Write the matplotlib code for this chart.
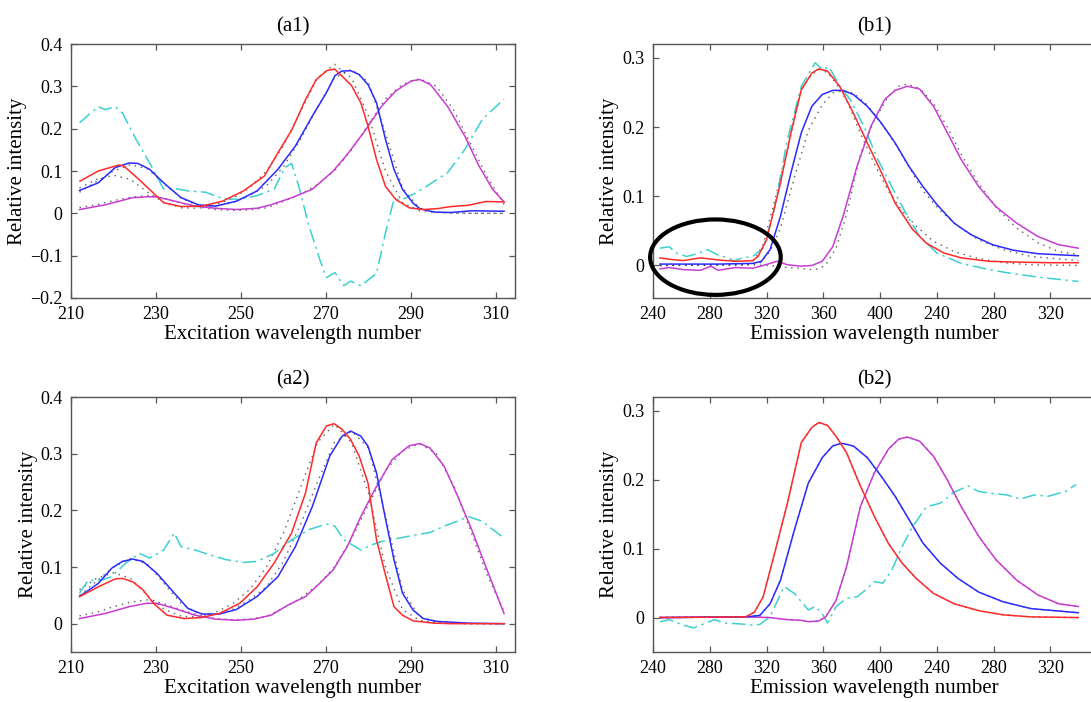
import numpy as np
import matplotlib.pyplot as plt
from matplotlib.patches import Ellipse

plt.rcParams['font.family'] = ['Liberation Serif', 'DejaVu Serif']
plt.rcParams['axes.unicode_minus'] = True

# ---- excitation panels (a1, a2) ----
a1_red_x = [212.1, 216.4, 221.2, 222.4, 226, 231.8, 235.9, 240.8, 245.7, 250.6, 255.5, 258.7, 262, 265.2, 267.7,
            270.2, 272, 273.8, 276, 278.2, 279.9, 281.9, 284, 286.4, 289.6, 292.9, 296.1, 299.4, 303.5, 307.6, 311.9]
a1_red_y = [0.076, 0.1, 0.114, 0.112, 0.08, 0.025, 0.016, 0.017, 0.029, 0.053, 0.088, 0.143, 0.198, 0.269, 0.316,
            0.337, 0.341, 0.324, 0.302, 0.261, 0.206, 0.127, 0.064, 0.033, 0.013, 0.009, 0.011, 0.016, 0.019, 0.028, 0.027]
a1_blue_x = [212, 216.4, 220.4, 223.7, 225.7, 228.5, 231.8, 235.9, 240, 244, 249, 253.8, 258.7, 262.8, 266.8, 270.1,
             272.1, 273.7, 275.8, 277.8, 279.9, 281.9, 284, 286, 288, 290.5, 292.1, 295.4, 299.4, 304.3, 311.9]
a1_blue_y = [0.054, 0.072, 0.108, 0.119, 0.118, 0.104, 0.072, 0.037, 0.02, 0.017, 0.029, 0.053, 0.104, 0.159, 0.23,
             0.285, 0.325, 0.336, 0.337, 0.328, 0.304, 0.261, 0.175, 0.104, 0.057, 0.024, 0.011, 0.003, 0.002, 0.006, 0.005]
a1_mag_x = [212, 218, 224.5, 227.8, 230.2, 234.3, 239.2, 244, 249, 253.8, 257, 262, 266.8, 271.7, 275, 279.1, 283.1,
            286.4, 290.1, 292.1, 294.6, 298.6, 302.7, 306, 309.2, 311.9]
a1_mag_y = [0.009, 0.02, 0.037, 0.039, 0.039, 0.029, 0.017, 0.012, 0.009, 0.012, 0.02, 0.037, 0.057, 0.1, 0.139,
            0.194, 0.253, 0.289, 0.313, 0.316, 0.304, 0.253, 0.182, 0.112, 0.057, 0.027]
a1_cyan_x = [212, 216.4, 218, 220.4, 222.1, 225.3, 228.5, 231.8, 234.3, 237.5, 241.6, 245.7, 249.7, 253.8, 257.8,
             260.3, 261.9, 263.6, 266, 268.5, 270.1, 272.1, 274.2, 275.8, 278.2, 281.9, 284, 286, 288.5, 291.3,
             294.6, 298.6, 302.7, 306.8, 311.9]
a1_cyan_y = [0.214, 0.252, 0.245, 0.252, 0.237, 0.175, 0.119, 0.057, 0.059, 0.053, 0.05, 0.035, 0.033, 0.042, 0.057,
             0.108, 0.118, 0.064, -0.03, -0.108, -0.152, -0.14, -0.171, -0.16, -0.171, -0.142, -0.046, 0.033, 0.035,
             0.049, 0.07, 0.096, 0.151, 0.222, 0.27]

a2_red_x = [212.1, 216.4, 220.4, 222.1, 224.5, 226.9, 229.4, 232.6, 236.7, 240.8, 244.9, 249.7, 253.8, 257.8, 261.9,
            265.2, 267.7, 270.1, 271.9, 273.8, 275.8, 277.8, 279.9, 281.9, 283.9, 286, 288, 290.5, 295.3, 299.4, 311.9]
a2_red_y = [0.048, 0.065, 0.079, 0.08, 0.074, 0.06, 0.036, 0.015, 0.009, 0.011, 0.018, 0.036, 0.065, 0.107, 0.16,
            0.231, 0.319, 0.349, 0.353, 0.343, 0.325, 0.296, 0.248, 0.148, 0.089, 0.03, 0.015, 0.005, 0.001, 0.0, 0.0]
a2_blue_x = [212, 216.4, 219.6, 222.1, 224.5, 226.9, 230.2, 234.3, 237.5, 240.8, 244.9, 248.9, 253.8, 258.7, 262.8,
             266.8, 270.9, 273.8, 275.8, 278.2, 279.9, 281.9, 283.9, 286, 288, 290.5, 292.9, 296.2, 303.5, 312]
a2_blue_y = [0.048, 0.071, 0.098, 0.11, 0.114, 0.11, 0.089, 0.054, 0.027, 0.017, 0.017, 0.025, 0.048, 0.083, 0.136,
             0.207, 0.296, 0.331, 0.34, 0.331, 0.313, 0.266, 0.189, 0.113, 0.054, 0.024, 0.009, 0.004, 0.001, 0.0]
a2_mag_x = [212, 218, 223.7, 227.8, 230.2, 234.3, 239.2, 244, 248.9, 253, 257.1, 261.1, 265.2, 268.5, 271.7, 275,
            278.2, 281.5, 285.6, 289.6, 292.1, 294.5, 297.8, 301, 304.3, 307.6, 311.9]
a2_mag_y = [0.009, 0.018, 0.03, 0.036, 0.036, 0.027, 0.015, 0.008, 0.006, 0.008, 0.015, 0.033, 0.048, 0.071, 0.095,
            0.136, 0.189, 0.237, 0.29, 0.314, 0.318, 0.31, 0.278, 0.225, 0.166, 0.101, 0.018]
a2_cyan_x = [212, 214, 217.2, 219.6, 220.4, 222.9, 226.1, 228.5, 231.8, 234.3, 235.9, 239.2, 242.4, 246.5, 250.6,
             253.8, 257.8, 261.9, 266, 270.1, 272.1, 274.2, 278.2, 280.7, 283.1, 287.2, 291.3, 294.5, 297.8, 301,
             303.5, 306.7, 311.9]
a2_cyan_y = [0.054, 0.076, 0.077, 0.083, 0.089, 0.107, 0.124, 0.116, 0.13, 0.16, 0.136, 0.13, 0.122, 0.113, 0.108,
             0.11, 0.124, 0.148, 0.166, 0.176, 0.172, 0.148, 0.13, 0.139, 0.145, 0.151, 0.157, 0.161, 0.172, 0.181,
             0.189, 0.181, 0.151]

# reference excitation spectra (dotted)
ex_ref_x = [212, 216, 220, 224, 228, 232, 236, 240, 244, 248, 252, 256, 260, 264, 268, 272, 276, 280, 284, 288,
            292, 296, 300, 304, 308, 312]
ex_ref_red = [0.06, 0.08, 0.09, 0.08, 0.05, 0.025, 0.013, 0.012, 0.02, 0.035, 0.06, 0.1, 0.16, 0.24, 0.32, 0.352,
              0.32, 0.23, 0.1, 0.025, 0.006, 0.002, 0.001, 0.0, 0.0, 0.0]
ex_ref_blue = [0.05, 0.075, 0.1, 0.115, 0.105, 0.07, 0.035, 0.018, 0.017, 0.025, 0.042, 0.065, 0.11, 0.175, 0.25,
               0.32, 0.34, 0.31, 0.19, 0.06, 0.012, 0.003, 0.001, 0.0, 0.0, 0.0]
ex_ref_mag = [0.014, 0.02, 0.03, 0.038, 0.042, 0.035, 0.024, 0.015, 0.009, 0.007, 0.008, 0.013, 0.028, 0.045, 0.068,
              0.1, 0.15, 0.21, 0.27, 0.305, 0.318, 0.3, 0.245, 0.165, 0.085, 0.02]

# ---- emission panels (b1, b2) ----
b1_red_x = [244.9, 251.5, 261.3, 273.5, 285.8, 298, 310.3, 314, 320, 329.8, 337.2, 344.5, 351.9, 356.8, 362.9,
            371.5, 381.2, 391, 401, 410.6, 422.9, 432.7, 444.9, 457.1, 476.7, 493.9, 518.3, 539.6]
b1_red_y = [0.011, 0.009, 0.007, 0.011, 0.008, 0.006, 0.007, 0.013, 0.037, 0.119, 0.192, 0.254, 0.278, 0.284, 0.281,
            0.259, 0.22, 0.177, 0.134, 0.09, 0.052, 0.032, 0.018, 0.011, 0.006, 0.005, 0.004, 0.004]
b1_blue_x = [244.9, 261.3, 285.8, 310.3, 316.4, 322.5, 329.8, 337.2, 344.5, 351.9, 359.2, 366.6, 373.9, 381.2, 391,
             400.8, 410.6, 420.4, 430.2, 440, 452.2, 464.5, 479.2, 493.9, 511, 539.6]
b1_blue_y = [0.002, 0.002, 0.002, 0.003, 0.006, 0.023, 0.071, 0.134, 0.192, 0.23, 0.247, 0.253, 0.253, 0.247, 0.23,
             0.206, 0.177, 0.143, 0.114, 0.088, 0.061, 0.044, 0.03, 0.022, 0.017, 0.014]
b1_mag_x = [244.9, 251.5, 261.3, 273.5, 280.9, 285.8, 298, 310.3, 317.6, 327.4, 334.7, 344.5, 351.9, 359.2, 366.6,
            373.9, 383.7, 393.5, 403.3, 410.6, 419.2, 427.8, 437.6, 447.3, 457.1, 469.4, 481.6, 496.3, 511, 525.7,
            539.6]
b1_mag_y = [-0.005, -0.003, -0.006, -0.007, -0.001, -0.007, -0.003, -0.004, 0.0, 0.006, 0.001, -0.001, 0.0, 0.006,
            0.027, 0.071, 0.143, 0.201, 0.24, 0.253, 0.259, 0.255, 0.23, 0.192, 0.153, 0.114, 0.085, 0.061, 0.042,
            0.03, 0.025]
b1_cyan_x = [244.9, 251.5, 256.4, 263.7, 271.1, 278.4, 285.8, 293.1, 296.8, 302.9, 310.3, 317.6, 325, 334.7, 344.5,
             354.3, 359.2, 364.1, 371.5, 378.8, 388.6, 398.4, 408.2, 418, 427.8, 440, 457.1, 476.7, 493.9, 515.9,
             539.6]
b1_cyan_y = [0.025, 0.027, 0.018, 0.013, 0.017, 0.023, 0.015, 0.011, 0.006, 0.011, 0.013, 0.025, 0.076, 0.182, 0.259,
             0.293, 0.283, 0.287, 0.259, 0.24, 0.201, 0.153, 0.114, 0.076, 0.042, 0.018, 0.003, -0.006, -0.012,
             -0.018, -0.023]

b2_red_x = [244.9, 305.4, 311.5, 317.6, 325, 334.7, 344.5, 351.9, 356.8, 362.9, 369, 376.4, 386.1, 395.9, 405.7,
            415.5, 425.3, 437.6, 452.2, 469.4, 486.5, 506.1, 539.6]
b2_red_y = [0.0, 0.001, 0.008, 0.03, 0.088, 0.166, 0.254, 0.276, 0.283, 0.279, 0.263, 0.239, 0.191, 0.147, 0.108,
            0.079, 0.057, 0.035, 0.02, 0.01, 0.004, 0.001, 0.0]
b2_blue_x = [245, 305.4, 315.2, 322.5, 329.8, 339.6, 349.4, 359.2, 366.6, 372.7, 381.2, 391, 400.8, 410.6, 420.4,
             430.2, 442.4, 454.7, 469.4, 486.5, 506.1, 539.6]
b2_blue_y = [0.0, 0.001, 0.003, 0.02, 0.054, 0.127, 0.195, 0.232, 0.249, 0.253, 0.249, 0.232, 0.205, 0.176, 0.142,
             0.108, 0.079, 0.057, 0.037, 0.023, 0.013, 0.007]
b2_mag_x = [245, 305.4, 322.5, 334.7, 344.5, 349.4, 356.8, 361.7, 369, 376.4, 386.1, 395.9, 405.7, 413.1, 419.2,
            427.8, 437.6, 447.3, 457.1, 469.4, 481.6, 496.3, 511, 525.7, 539.6]
b2_mag_y = [0.0, 0.001, 0.0, -0.003, -0.004, -0.006, -0.005, 0.001, 0.025, 0.074, 0.161, 0.21, 0.244, 0.259, 0.262,
            0.256, 0.234, 0.2, 0.161, 0.118, 0.084, 0.054, 0.033, 0.02, 0.016]
b2_cyan_x = [245, 251.5, 261.3, 268.6, 276, 283.3, 290.7, 300.5, 310.3, 315.2, 322.5, 332.3, 339.6, 349.4, 354.3,
             359.2, 362.9, 369, 376.4, 383.7, 391, 395.9, 402, 408.2, 415.5, 422.9, 432.7, 442.4, 452.2, 462, 469.4,
             479.2, 489, 498.8, 508.6, 518.3, 530.6, 538]
b2_cyan_y = [-0.006, -0.003, -0.011, -0.015, -0.009, -0.003, -0.008, -0.009, -0.011, -0.01, 0.001, 0.045, 0.035,
             0.011, 0.016, 0.006, -0.008, 0.016, 0.028, 0.03, 0.042, 0.052, 0.05, 0.069, 0.103, 0.132, 0.161, 0.166,
             0.182, 0.191, 0.183, 0.18, 0.178, 0.172, 0.178, 0.176, 0.183, 0.193]

# reference emission spectra (dotted) follow the b2 estimates
em_ref = [(b2_red_x, b2_red_y), (b2_blue_x, b2_blue_y), (b2_mag_x, b2_mag_y)]
ex_ref = [(ex_ref_x, ex_ref_red), (ex_ref_x, ex_ref_blue), (ex_ref_x, ex_ref_mag)]

ex_ticks = [210, 230, 250, 270, 290, 310]
em_ticks = [240, 280, 320, 360, 400, 440, 480, 520]
em_ticklabels = ['240', '280', '320', '360', '400', '240', '280', '320']

RED = '#ff2a2a'
BLUE = '#2a2aff'
MAG = '#c83cd2'
CYAN = '#3cd0d0'
AXC = '#555555'


def ylab(v):
    if abs(v) < 1e-9:
        return '0'
    return ('%.1f' % v).replace('-', '\u2212')


def style_axes(ax, title, xlabel, xticks, xticklabels, yticks, right=True):
    for s in ax.spines.values():
        s.set_color(AXC)
        s.set_linewidth(1.0)
    ax.tick_params(direction='in', top=True, right=right, length=4, width=0.9, color=AXC,
                   labelsize=13, pad=6)
    ax.set_xticks(xticks)
    ax.set_xticklabels(xticklabels)
    ax.set_yticks(yticks)
    ax.set_yticklabels([ylab(v) for v in yticks])
    ax.set_title(title, fontsize=15, pad=9)
    ax.set_xlabel(xlabel, fontsize=15, labelpad=1)
    ax.set_ylabel('Relative intensity', fontsize=15, labelpad=2)


def draw_panel(ax, refs, series):
    for rx, ry in refs:
        ax.plot(rx, ry, color='#333333', lw=1.0, linestyle=(0, (1, 3.5)), alpha=0.8)
    (rx, ry), (bx, by), (mx, my), (cx, cy) = series
    ax.plot(cx, cy, color=CYAN, lw=1.1, linestyle=(0, (9, 3, 1.5, 3)))
    ax.plot(mx, my, color=MAG, lw=1.1)
    ax.plot(bx, by, color=BLUE, lw=1.1)
    ax.plot(rx, ry, color=RED, lw=1.1)


fig = plt.figure(figsize=(10.91, 7.02), dpi=100)

ax_a1 = fig.add_axes([0.0651, 0.5755, 0.407, 0.3618])
ax_b1 = fig.add_axes([0.5985, 0.5755, 0.406, 0.3618])
ax_a2 = fig.add_axes([0.0651, 0.0712, 0.407, 0.3632])
ax_b2 = fig.add_axes([0.5985, 0.0712, 0.406, 0.3632])

draw_panel(ax_a1, ex_ref, [(a1_red_x, a1_red_y), (a1_blue_x, a1_blue_y), (a1_mag_x, a1_mag_y),
                           (a1_cyan_x, a1_cyan_y)])
ax_a1.set_xlim(210, 314.5)
ax_a1.set_ylim(-0.2, 0.4)
style_axes(ax_a1, '(a1)', 'Excitation wavelength number', ex_ticks, [str(t) for t in ex_ticks],
           np.round(np.arange(-0.2, 0.41, 0.1), 1))

draw_panel(ax_a2, ex_ref, [(a2_red_x, a2_red_y), (a2_blue_x, a2_blue_y), (a2_mag_x, a2_mag_y),
                           (a2_cyan_x, a2_cyan_y)])
ax_a2.set_xlim(210, 314.5)
ax_a2.set_ylim(-0.05, 0.4)
style_axes(ax_a2, '(a2)', 'Excitation wavelength number', ex_ticks, [str(t) for t in ex_ticks],
           np.round(np.arange(0, 0.41, 0.1), 1))

draw_panel(ax_b1, em_ref, [(b1_red_x, b1_red_y), (b1_blue_x, b1_blue_y), (b1_mag_x, b1_mag_y),
                           (b1_cyan_x, b1_cyan_y)])
ax_b1.set_xlim(240, 552)
ax_b1.set_ylim(-0.047, 0.32)
style_axes(ax_b1, '(b1)', 'Emission wavelength number', em_ticks, em_ticklabels,
           np.round(np.arange(0, 0.31, 0.1), 1), right=False)
# highlight the noisy baseline region
ax_b1.add_patch(Ellipse((284, 0.012), 92, 0.109, fill=False, edgecolor='black', lw=3, clip_on=False, zorder=5))

draw_panel(ax_b2, em_ref, [(b2_red_x, b2_red_y), (b2_blue_x, b2_blue_y), (b2_mag_x, b2_mag_y),
                           (b2_cyan_x, b2_cyan_y)])
ax_b2.set_xlim(240, 552)
ax_b2.set_ylim(-0.05, 0.32)
style_axes(ax_b2, '(b2)', 'Emission wavelength number', em_ticks, em_ticklabels,
           np.round(np.arange(0, 0.31, 0.1), 1), right=False)

fig.savefig('out.png', dpi=100)
